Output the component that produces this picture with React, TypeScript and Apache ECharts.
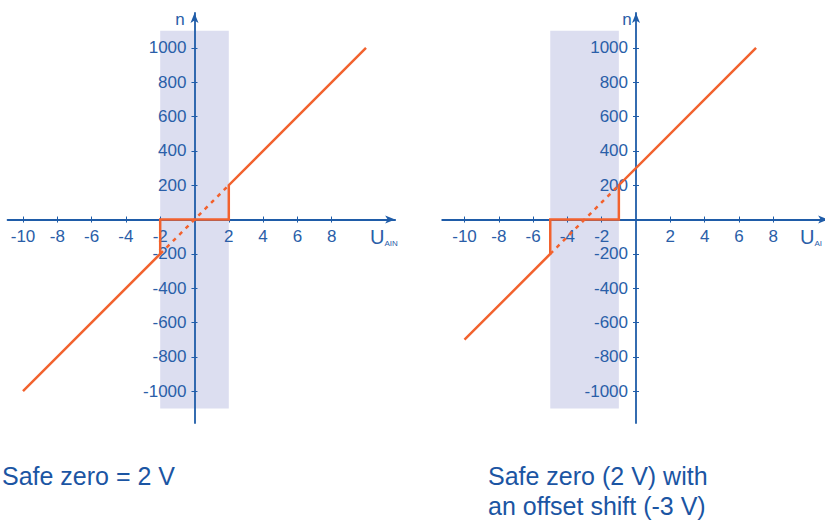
import React, { useEffect, useRef } from "react";
import * as echarts from "echarts";

const xTicks = [-10, -8, -6, -4, -2, 2, 4, 6, 8];
const yTicks = [-1000, -800, -600, -400, -200, 200, 400, 600, 800, 1000];

const leftSolid = [[-10, -1000], [-2, -200], [-2, 0], [2, 0], [2, 200], [10, 1000]];
const leftDashed = [[-2, -200], [2, 200]];
const leftZone = [-2, 2];

const rightSolid = [[-10, -700], [-5, -200], [-5, 0], [-1, 0], [-1, 200], [7, 1000]];
const rightDashed = [[-5, -200], [-1, 200]];
const rightZone = [-5, -1];

const zoneN = [-1100, 1100];

const leftCaption = ["Safe zero = 2 V"];
const rightCaption = ["Safe zero (2 V) with", "an offset shift (-3 V)"];

const AXIS = "#1f5ca8";
const LABEL = "#2a5ea8";
const RED = "#f2622e";
const SHADE = "#dcdef0";
const FONT = "Liberation Sans, Arial, sans-serif";

export default function App() {
  const ref = useRef<HTMLDivElement>(null);
  useEffect(() => {
    const chart = echarts.init(ref.current!, null, { renderer: "svg" });

    const grids = [
      { left: 7.56, top: 13, width: 387.6, height: 410, xmin: -10.9, xmax: 11.7 },
      { left: 442.2, top: 13, width: 385.9, height: 410, xmin: -11.3, xmax: 11.2 },
    ];
    const ymin = -1185;
    const ymax = 1203;

    const xAxes: any[] = [];
    const yAxes: any[] = [];
    grids.forEach((g, i) => {
      // shift the axes from the grid edges to the zero lines
      const xOff = -((0 - ymin) / (ymax - ymin)) * g.height;
      const yOff = -((0 - g.xmin) / (g.xmax - g.xmin)) * g.width;
      [false, true].forEach((inner) => {
        xAxes.push({
          type: "value",
          gridIndex: i,
          min: g.xmin,
          max: g.xmax,
          position: "bottom",
          offset: xOff,
          z: 1,
          splitLine: { show: false },
          axisLine: {
            show: !inner,
            onZero: false,
            symbol: ["none", "arrow"],
            symbolSize: [6, 10],
            lineStyle: { color: AXIS, width: 1.8 },
          },
          axisTick: { show: true, inside: inner, length: 3, customValues: xTicks, lineStyle: { color: AXIS, width: 1 } },
          axisLabel: {
            show: !inner,
            customValues: xTicks,
            margin: 8,
            color: LABEL,
            fontSize: 17,
            fontFamily: FONT,
            formatter: (v: number) => String(v),
          },
        });
        yAxes.push({
          type: "value",
          gridIndex: i,
          min: ymin,
          max: ymax,
          position: "left",
          offset: yOff,
          z: 1,
          splitLine: { show: false },
          axisLine: {
            show: !inner,
            onZero: false,
            symbol: ["none", "arrow"],
            symbolSize: [6, 10],
            lineStyle: { color: AXIS, width: 1.8 },
          },
          axisTick: { show: true, inside: inner, length: 3, customValues: yTicks, lineStyle: { color: AXIS, width: 1 } },
          axisLabel: {
            show: !inner,
            customValues: yTicks,
            margin: 8,
            color: LABEL,
            fontSize: 17,
            fontFamily: FONT,
            formatter: (v: number) => String(v),
          },
        });
      });
    });

    const panels = [
      { solid: leftSolid, dashed: leftDashed, zone: leftZone },
      { solid: rightSolid, dashed: rightDashed, zone: rightZone },
    ];
    const series: any[] = [];
    panels.forEach((p, i) => {
      const xi = i * 2;
      const yi = i * 2;
      series.push({
        type: "line",
        xAxisIndex: xi,
        yAxisIndex: yi,
        data: [],
        z: 0,
        silent: true,
        markArea: {
          silent: true,
          itemStyle: { color: SHADE, opacity: 1 },
          data: [[{ coord: [p.zone[0], zoneN[0]] }, { coord: [p.zone[1], zoneN[1]] }]],
        },
      });
      series.push({
        type: "line",
        xAxisIndex: xi,
        yAxisIndex: yi,
        data: p.dashed,
        z: 3,
        symbol: "none",
        lineStyle: { color: RED, width: 2.5, type: [4, 5] },
      });
      series.push({
        type: "line",
        xAxisIndex: xi,
        yAxisIndex: yi,
        data: p.solid,
        z: 4,
        symbol: "none",
        lineStyle: { color: RED, width: 2.5, join: "miter" },
      });
    });

    const graphic: any[] = [
      { type: "text", x: 180, y: 19, style: { text: "n", fill: LABEL, font: `17px ${FONT}`, align: "center", verticalAlign: "middle" } },
      { type: "text", x: 627, y: 19, style: { text: "n", fill: LABEL, font: `17px ${FONT}`, align: "center", verticalAlign: "middle" } },
      {
        type: "text",
        x: 370,
        y: 237,
        style: {
          text: "{u|U}{s|AIN}",
          verticalAlign: "middle",
          rich: {
            u: { fill: LABEL, fontSize: 20, fontFamily: FONT, verticalAlign: "bottom" },
            s: { fill: LABEL, fontSize: 8, fontFamily: FONT, verticalAlign: "bottom" },
          },
        },
      },
      {
        type: "text",
        x: 800,
        y: 237,
        style: {
          text: "{u|U}{s|AI}",
          verticalAlign: "middle",
          rich: {
            u: { fill: LABEL, fontSize: 20, fontFamily: FONT, verticalAlign: "bottom" },
            s: { fill: LABEL, fontSize: 8, fontFamily: FONT, verticalAlign: "bottom" },
          },
        },
      },
      { type: "text", x: 2, y: 476, style: { text: leftCaption[0], fill: "#1b55a3", font: `25px ${FONT}`, verticalAlign: "middle" } },
      { type: "text", x: 488, y: 476, style: { text: rightCaption[0], fill: "#1b55a3", font: `25px ${FONT}`, verticalAlign: "middle" } },
      { type: "text", x: 488, y: 506, style: { text: rightCaption[1], fill: "#1b55a3", font: `25px ${FONT}`, verticalAlign: "middle" } },
    ];

    chart.setOption({
      animation: false,
      backgroundColor: "#ffffff",
      grid: grids.map((g) => ({
        left: g.left,
        top: g.top,
        width: g.width,
        height: g.height,
        containLabel: false,
        outerBoundsMode: "none",
      })),
      xAxis: xAxes,
      yAxis: yAxes,
      series,
      graphic,
    });
    return () => chart.dispose();
  }, []);
  return (
    <div
      ref={ref}
      style={{ position: "absolute", left: 0, top: 0, width: 825, height: 523, background: "#fff" }}
    />
  );
}
